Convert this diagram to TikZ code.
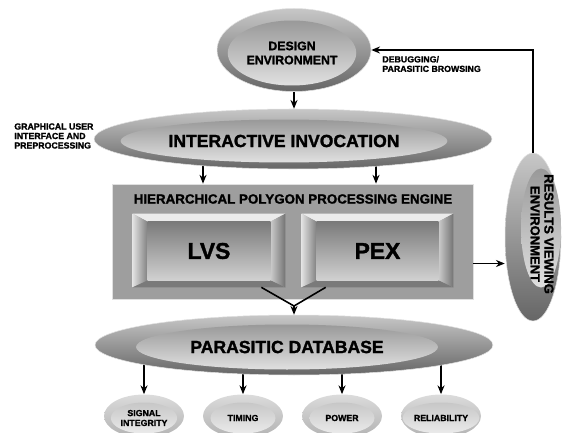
\documentclass[tikz,border=0pt]{standalone}
\usepackage{fontspec}
\setmainfont{Liberation Sans}[BoldFeatures={FakeBold=1.5}]
\usetikzlibrary{shapes.geometric,arrows.meta,calc,backgrounds}

\begin{document}
\begin{tikzpicture}
  [x=0.02cm,y=-0.02cm,font=\bfseries,
   outer/.style={ellipse,inner sep=0pt,top color=black!22,bottom color=black!60,draw=black!12,line width=0.3pt},
   inner/.style={ellipse,inner sep=0pt,top color=black!40,bottom color=black!12},
   small/.style={ellipse,inner sep=0pt,top color=black!14,bottom color=black!30,minimum width=1.6cm,minimum height=0.86cm},
   smallin/.style={ellipse,inner sep=0pt,top color=black!22,bottom color=black!8,minimum width=1.3cm,minimum height=0.62cm,align=center,font=\fontsize{5}{5.6}\selectfont\bfseries},
   lbl/.style={align=left,inner sep=0pt,font=\fontsize{5}{5.4}\selectfont\bfseries},
   arr/.style={-{Stealth[length=5pt,width=4pt]},line width=0.9pt}]

  \useasboundingbox (0,0) rectangle (563,432);

  % ellipses
  \node[outer,minimum width=3.08cm,minimum height=1.66cm] (design) at (294,50) {};
  \node[inner,minimum width=2.36cm,minimum height=1.3cm,align=center,font=\fontsize{7}{8}\selectfont\bfseries] (design-in) at (292,53) {DESIGN\\ENVIRONMENT};

  \node[outer,minimum width=7.96cm,minimum height=1.2cm] (invoke) at (293,139) {};
  \node[inner,minimum width=5.92cm,minimum height=0.86cm,font=\fontsize{10}{10}\selectfont\bfseries] (invoke-in) at (284,141) {INTERACTIVE INVOCATION};

  \node[outer,minimum width=7.96cm,minimum height=1.2cm] (pdb) at (294,345) {};
  \node[inner,minimum width=6.04cm,minimum height=0.9cm,font=\fontsize{10}{10}\selectfont\bfseries] (pdb-in) at (287,347) {PARASITIC DATABASE};

  \node[outer,minimum width=1.12cm,minimum height=3.36cm] (results) at (533,237) {};
  \node[inner,minimum width=0.8cm,minimum height=2.38cm] (results-in) at (541,228) {};
  \node[rotate=-90,align=center,font=\fontsize{7.4}{7.8}\selectfont\bfseries] (results-t) at (542,234) {RESULTS VIEWING\\ENVIRONMENT};

  % engine
  \node[draw=black!12,fill=black!38,minimum width=7.22cm,minimum height=2.3cm,inner sep=0pt] (engine) at (292.5,241.5) {};
  \node[font=\fontsize{7.6}{8}\selectfont\bfseries] (title) at (293,199) {HIERARCHICAL POLYGON PROCESSING ENGINE};
  \node[minimum width=3.04cm,minimum height=1.46cm,inner sep=0pt] (lvs) at (209,250.5) {};
  \node[minimum width=3.02cm,minimum height=1.46cm,inner sep=0pt] (pex) at (377.5,250.5) {};
  \foreach \b in {lvs,pex} {
    \path (\b.north west) coordinate (o1) (\b.north east) coordinate (o2)
          (\b.south east) coordinate (o3) (\b.south west) coordinate (o4)
          ($(o1)+(15,8)$) coordinate (i1) ($(o2)+(-15,8)$) coordinate (i2)
          ($(o3)+(-15,-7)$) coordinate (i3) ($(o4)+(15,-7)$) coordinate (i4);
    \fill[black!8] (o1) -- (o2) -- (i2) -- (i1) -- cycle;
    \shade[left color=black!12,right color=black!50] (o1) -- (i1) -- (i4) -- (o4) -- cycle;
    \shade[left color=black!20,right color=black!55] (o2) -- (i2) -- (i3) -- (o3) -- cycle;
    \fill[black!52] (o4) -- (i4) -- (i3) -- (o3) -- cycle;
    \shade[top color=black!52,bottom color=black!18] (i1) rectangle (i3);
  }
  \node[font=\fontsize{13}{13}\selectfont\bfseries] (lvs-t) at (209,251) {LVS};
  \node[font=\fontsize{13}{13}\selectfont\bfseries] (pex-t) at (377.5,251) {PEX};

  % small ellipses
  \foreach \x/\n/\t in {144/sig/{SIGNAL\\INTEGRITY},243/tim/TIMING,342/pow/POWER,441/rel/RELIABILITY} {
    \node[small] (\n) at (\x,416) {};
    \node[smallin] (\n-in) at (\x,418) {\t};
    \begin{scope}[on background layer]
      \draw[arr] (\x,345) -- (\n.north);
    \end{scope}
  }

  % labels
  \node[lbl,anchor=west] (gui) at (14,136) {GRAPHICAL USER\\INTERFACE AND\\PREPROCESSING};
  \node[lbl,anchor=west] (dbg) at (382,64) {DEBUGGING/\\PARASITIC BROWSING};

  % connectors
  \begin{scope}[on background layer]
    \draw[arr] (203,139) -- (203,0 |- engine.north);
    \draw[arr] (376,139) -- (376,0 |- engine.north);
  \end{scope}
  \draw[arr] (design.south) -- (design.south |- invoke.north);
  \coordinate (join) at (294,306);
  \draw[line width=0.9pt] ($(lvs.south east)+(-24,0)$) -- (join) -- ($(pex.south west)+(24,0)$);
  \draw[arr] (join) -- (join |- pdb.north);
  \draw[arr] ($(engine.east)+(0,22)$) coordinate (e1) -- (e1 -| results.west);
  \draw[arr] (results.north) |- (design.east);

\end{tikzpicture}
\end{document}
